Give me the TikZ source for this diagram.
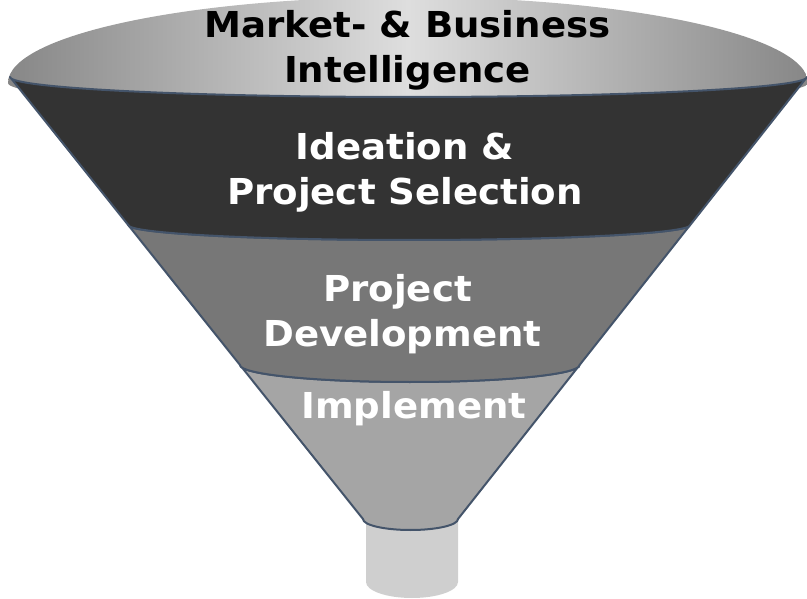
\documentclass[tikz,border=0pt]{standalone}
\usepackage{fontspec}
\setmainfont{DejaVu Sans}[FakeStretch=1.04]

\definecolor{rimblue}{HTML}{44546A}
\definecolor{lipgrey}{HTML}{878787}
\definecolor{lipmid}{HTML}{DEDEDE}
\definecolor{banddark}{HTML}{333333}
\definecolor{bandmid}{HTML}{777777}
\definecolor{bandlight}{HTML}{A5A5A5}
\definecolor{spoutgrey}{HTML}{CFCFCF}

\begin{document}
\begin{tikzpicture}
[ x=1pt, y=-1pt
, band/.style={draw=rimblue, line width=2pt, line join=round}
, stage/.style={font=\fontsize{35.7}{45}\selectfont\bfseries, align=center, text=white, anchor=base, inner sep=0pt}
]
\useasboundingbox (0,0) rectangle (807,599);
% corners of the cone
\coordinate (rimL) at (10,77);
\coordinate (rimR) at (807,77);
\coordinate (cutL1) at (128.2,225);
\coordinate (cutR1) at (690.1,225);
\coordinate (cutL2) at (240,365);
\coordinate (cutR2) at (579.6,365);
\coordinate (neckL) at (363,519);
\coordinate (neckR) at (458,519);
% spout
\fill [spoutgrey] (366,510) -- (366,582) arc[start angle=180, end angle=360, x radius=46pt, y radius=16pt] -- (458,510) -- cycle;
% top opening
\shade [left color=lipgrey, right color=lipgrey, middle color=lipmid] (8,83) arc[start angle=180, end angle=0, x radius=400pt, y radius=86pt]
  arc[start angle=0, end angle=-180, x radius=400pt, y radius=24pt] -- cycle;
% bands, lowest first
\filldraw [band, fill=bandlight] (cutL2) -- (neckL) arc[start angle=180, end angle=360, x radius=47.5pt, y radius=11pt]
  -- (cutR2) arc[start angle=0, end angle=-180, x radius=169.8pt, y radius=17pt] -- cycle;
\filldraw [band, fill=bandmid] (cutL1) -- (cutL2) arc[start angle=180, end angle=360, x radius=169.8pt, y radius=17pt]
  -- (cutR1) arc[start angle=0, end angle=-180, x radius=281pt, y radius=15pt] -- cycle;
\filldraw [band, fill=banddark] (rimL) -- (cutL1) arc[start angle=180, end angle=360, x radius=281pt, y radius=15pt]
  -- (rimR) arc[start angle=0, end angle=-180, x radius=398.5pt, y radius=20pt] -- cycle;
% labels
\node (market) [stage, text=black] at (407.5,83) {Market- \& Business\\Intelligence};
\node (ideation) [stage] at (405,205) {Ideation \&\\Project Selection};
\node (develop) [stage] at (402.5,346) {Project\kern10pt\\Development};
\node (implement) [stage] at (414,418) {Implement};
\end{tikzpicture}
\end{document}
